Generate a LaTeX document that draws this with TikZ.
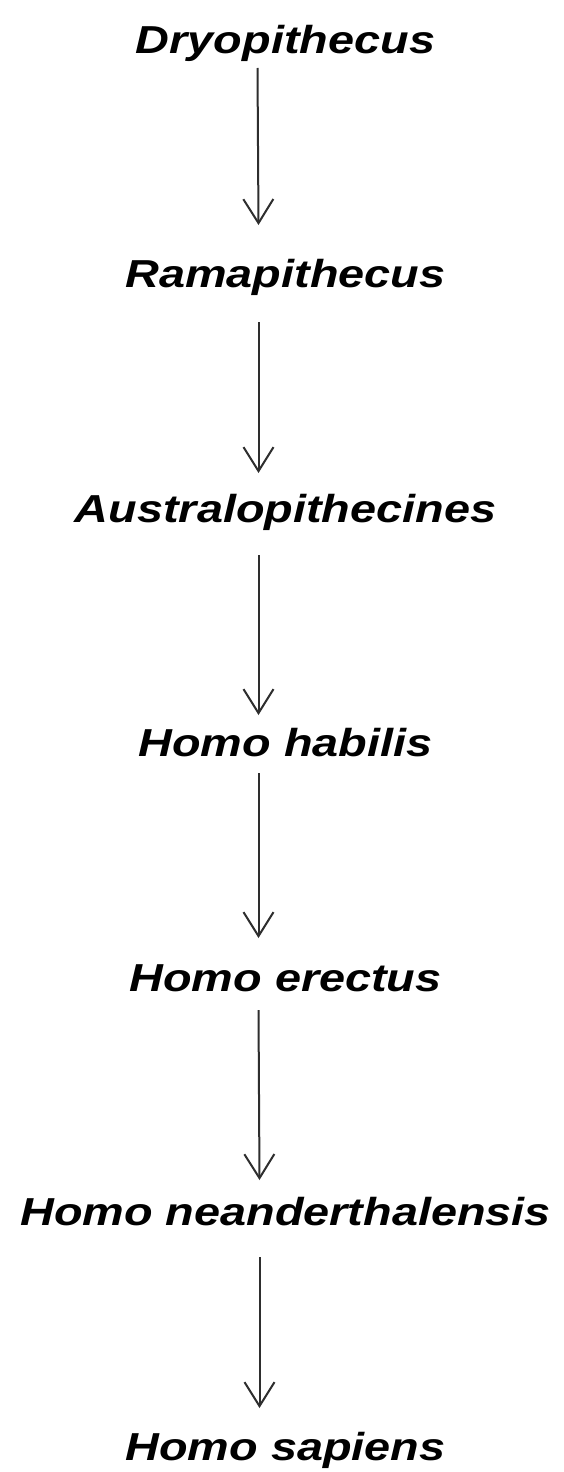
\documentclass[tikz,border=0pt]{standalone}
\usepackage{fontspec}
\setmainfont{Liberation Sans}
\usetikzlibrary{arrows.meta,calc}
\definecolor{arrowgray}{HTML}{2E2E2E}
\begin{document}
\begin{tikzpicture}[x=1pt,y=-1pt,
  taxon/.style={inner sep=0pt,text height=28pt,text depth=0pt,
    font=\fontsize{39}{39}\selectfont\bfseries\itshape},
  evo/.style={draw=arrowgray,line width=2pt,
    -{Straight Barb[length=24pt,width=30pt,line width=2pt]}}]
\useasboundingbox[fill=white] (0,0) rectangle (564,1472);
\node[taxon] (n1) at (285.5,39)   {\scalebox{1.2}[1]{Dryopithecus}};
\node[taxon] (n2) at (285.5,273.5){\scalebox{1.2}[1]{Ramapithecus}};
\node[taxon] (n3) at (285.5,508)  {\scalebox{1.2}[1]{Australopithecines}};
\node[taxon] (n4) at (285.5,742.5){\scalebox{1.2}[1]{Homo habilis}};
\node[taxon] (n5) at (285.5,977)  {\scalebox{1.2}[1]{Homo erectus}};
\node[taxon] (n6) at (285.5,1211.5){\scalebox{1.2}[1]{Homo neanderthalensis}};
\node[taxon] (n7) at (285.5,1446) {\scalebox{1.2}[1]{Homo sapiens}};
\draw[evo] ($(n1.center)+(-28,29)$)   -- ($(n2.center)+(-27,-48.5)$);
\draw[evo] ($(n2.center)+(-27,48.5)$) -- ($(n3.center)+(-27,-35)$);
\draw[evo] ($(n3.center)+(-27,47)$)   -- ($(n4.center)+(-27,-27.5)$);
\draw[evo] ($(n4.center)+(-27,30.5)$) -- ($(n5.center)+(-27,-39)$);
\draw[evo] ($(n5.center)+(-27,33)$)   -- ($(n6.center)+(-26,-31.5)$);
\draw[evo] ($(n6.center)+(-26,45.5)$) -- ($(n7.center)+(-26,-38)$);
\end{tikzpicture}
\end{document}
